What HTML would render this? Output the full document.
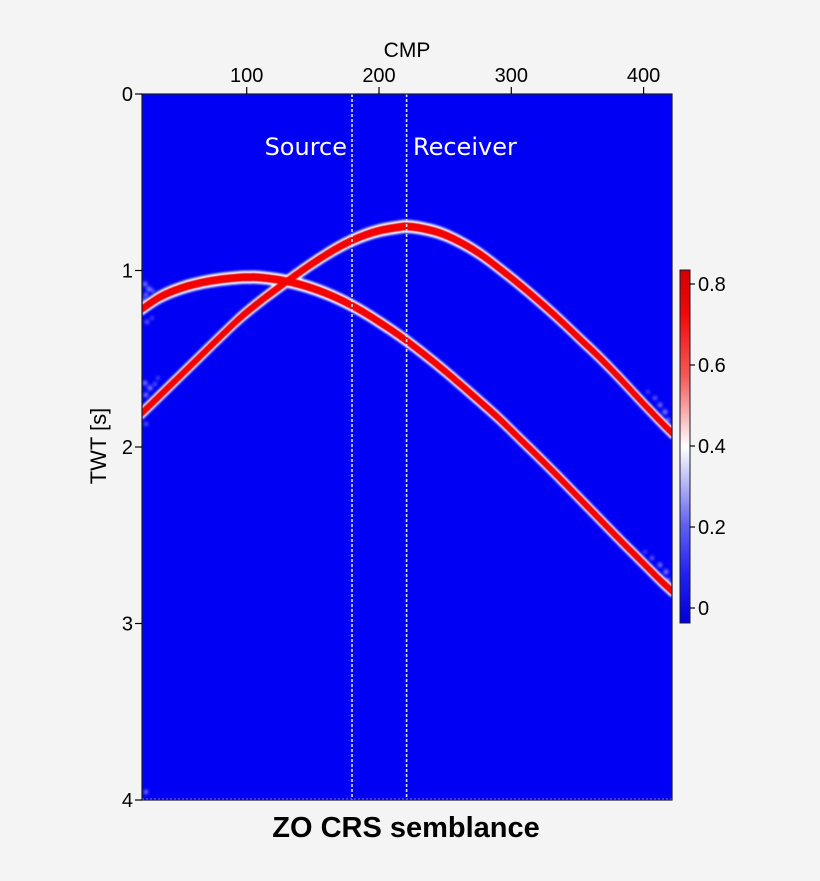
<!DOCTYPE html>
<html><head><meta charset="utf-8"><style>
html,body{margin:0;padding:0;background:#f4f4f4;}
svg{display:block;}
</style></head><body>
<svg width="820" height="881" viewBox="0 0 820 881" xmlns="http://www.w3.org/2000/svg" xmlns:xlink="http://www.w3.org/1999/xlink">
<defs>
<clipPath id="pc"><rect x="142" y="94" width="530" height="706"/></clipPath>
<filter id="bl" x="-5%" y="-5%" width="110%" height="110%"><feGaussianBlur stdDeviation="1.0"/></filter>
<filter id="bl2" x="-50%" y="-50%" width="200%" height="200%"><feGaussianBlur stdDeviation="1.5"/></filter>
<filter id="bl3" x="-5%" y="-5%" width="110%" height="110%"><feGaussianBlur stdDeviation="0.4"/></filter>
<polyline id="rc" fill="none" stroke-linejoin="round" points="142,413 160,395.5 180,376 200,356.5 220,337 240,318 260,301.5 280,286.5 300,272 320,258.5 340,246.5 360,237 380,230.5 400,227 407,226.5 420,228 440,233 460,242 480,254 500,269 520,285 540,302 560,320 580,339 600,358 620,378.5 640,400 660,421 672,433"/>
<polyline id="sc" fill="none" stroke-linejoin="round" points="142,309 160,297 180,288.5 200,283 220,279.5 240,277.5 250,277.2 260,277.5 280,280 300,284.5 320,291 340,299.5 360,310 380,322.5 400,336 420,351 440,367 460,384 480,401.5 500,419.5 520,439 540,458.5 560,478.5 580,499 600,519.5 620,540 640,560 660,580 672,591"/>
<linearGradient id="cb" x1="0" y1="0" x2="0" y2="1">
<stop offset="0" stop-color="#d00000"/>
<stop offset="0.12" stop-color="#f00808"/>
<stop offset="0.3" stop-color="#f25a5a"/>
<stop offset="0.42" stop-color="#f8bcbc"/>
<stop offset="0.5" stop-color="#ffffff"/>
<stop offset="0.58" stop-color="#c8c8f6"/>
<stop offset="0.72" stop-color="#6262ee"/>
<stop offset="0.86" stop-color="#2222ee"/>
<stop offset="1" stop-color="#0000d6"/>
</linearGradient>
</defs>

<rect x="142" y="94" width="530" height="706" fill="#0000f5"/>

<g clip-path="url(#pc)">
  <g fill="#ffffff" opacity="0.6" filter="url(#bl2)">
    <circle cx="145" cy="284" r="2.2"/><circle cx="149" cy="289" r="2.4"/><circle cx="146" cy="295" r="2"/><circle cx="153" cy="291" r="1.6"/><circle cx="144" cy="300" r="1.8"/>
    <circle cx="147" cy="322" r="1.8"/><circle cx="152" cy="318" r="1.4"/>
    <circle cx="145" cy="383" r="2.2"/><circle cx="150" cy="388" r="2.4"/><circle cx="146" cy="395" r="2.2"/><circle cx="155" cy="384" r="1.6"/><circle cx="158" cy="378" r="1.4"/>
    <circle cx="146" cy="424" r="1.6"/>
    <circle cx="660" cy="405" r="2.2"/><circle cx="665" cy="412" r="2.4"/><circle cx="655" cy="398" r="1.8"/><circle cx="668" cy="420" r="2"/><circle cx="648" cy="392" r="1.4"/>
    <circle cx="660" cy="565" r="2.2"/><circle cx="666" cy="572" r="2.4"/><circle cx="652" cy="558" r="1.8"/><circle cx="668" cy="580" r="2"/><circle cx="645" cy="552" r="1.4"/>
    <circle cx="146" cy="792" r="2"/>
  </g>
  <g stroke="#ffffff" stroke-width="2" filter="url(#bl)">
    <use href="#rc" xlink:href="#rc" y="-5.5"/><use href="#rc" xlink:href="#rc" y="-4.5"/><use href="#rc" xlink:href="#rc" y="-3.5"/><use href="#rc" xlink:href="#rc" y="3.5"/><use href="#rc" xlink:href="#rc" y="4.5"/><use href="#rc" xlink:href="#rc" y="5.5"/>
    <use href="#sc" xlink:href="#sc" y="-5.5"/><use href="#sc" xlink:href="#sc" y="-4.5"/><use href="#sc" xlink:href="#sc" y="-3.5"/><use href="#sc" xlink:href="#sc" y="3.5"/><use href="#sc" xlink:href="#sc" y="4.5"/><use href="#sc" xlink:href="#sc" y="5.5"/>
  </g>
  <g stroke="#f40000" stroke-width="2" filter="url(#bl3)">
    <use href="#rc" xlink:href="#rc" y="-3"/><use href="#rc" xlink:href="#rc" y="-2"/><use href="#rc" xlink:href="#rc" y="-1"/><use href="#rc" xlink:href="#rc" y="0"/><use href="#rc" xlink:href="#rc" y="1"/><use href="#rc" xlink:href="#rc" y="2"/><use href="#rc" xlink:href="#rc" y="3"/>
    <use href="#sc" xlink:href="#sc" y="-3"/><use href="#sc" xlink:href="#sc" y="-2"/><use href="#sc" xlink:href="#sc" y="-1"/><use href="#sc" xlink:href="#sc" y="0"/><use href="#sc" xlink:href="#sc" y="1"/><use href="#sc" xlink:href="#sc" y="2"/><use href="#sc" xlink:href="#sc" y="3"/>
  </g>
  <line x1="352" y1="94" x2="352" y2="800" stroke="#dcdcff" stroke-width="1.6" stroke-dasharray="3,2"/>
  <line x1="406.6" y1="94" x2="406.6" y2="800" stroke="#dcdcff" stroke-width="1.6" stroke-dasharray="3,2"/>
  <line x1="142" y1="799" x2="672" y2="799" stroke="#d8c8f0" stroke-width="1" opacity="0.6" stroke-dasharray="2,2"/>
</g>

<rect x="142" y="94" width="530" height="706" fill="none" stroke="#1a1a2a" stroke-width="1.2"/>

<g font-family="'DejaVu Sans', sans-serif" font-size="24" fill="#ffffff">
  <text x="347" y="155" text-anchor="end">Source</text>
  <text x="413" y="155">Receiver</text>
</g>

<g stroke="#000" stroke-width="1.2">
  <line x1="246.7" y1="87" x2="246.7" y2="94"/>
  <line x1="379" y1="87" x2="379" y2="94"/>
  <line x1="511.3" y1="87" x2="511.3" y2="94"/>
  <line x1="643.6" y1="87" x2="643.6" y2="94"/>
  <line x1="135" y1="94" x2="142" y2="94"/>
  <line x1="135" y1="270.5" x2="142" y2="270.5"/>
  <line x1="135" y1="447" x2="142" y2="447"/>
  <line x1="135" y1="623.5" x2="142" y2="623.5"/>
  <line x1="135" y1="800" x2="142" y2="800"/>
</g>
<g font-family="'Liberation Sans', Arial, sans-serif" font-size="20" fill="#000">
  <text x="246.7" y="82" text-anchor="middle">100</text>
  <text x="379" y="82" text-anchor="middle">200</text>
  <text x="511.3" y="82" text-anchor="middle">300</text>
  <text x="643.6" y="82" text-anchor="middle">400</text>
  <text x="133" y="101" text-anchor="end">0</text>
  <text x="133" y="277.5" text-anchor="end">1</text>
  <text x="133" y="454" text-anchor="end">2</text>
  <text x="133" y="630.5" text-anchor="end">3</text>
  <text x="133" y="807" text-anchor="end">4</text>
  <text x="407" y="57" text-anchor="middle" font-size="21">CMP</text>
  <text x="0" y="0" text-anchor="middle" font-size="22" transform="translate(106,446) rotate(-90)">TWT [s]</text>
</g>

<rect x="680" y="270" width="10" height="353" fill="url(#cb)" stroke="#1a1a2a" stroke-width="1"/>
<g stroke="#000" stroke-width="1.2">
  <line x1="690" y1="284" x2="695" y2="284"/>
  <line x1="690" y1="365" x2="695" y2="365"/>
  <line x1="690" y1="446" x2="695" y2="446"/>
  <line x1="690" y1="527" x2="695" y2="527"/>
  <line x1="690" y1="608" x2="695" y2="608"/>
</g>
<g font-family="'Liberation Sans', Arial, sans-serif" font-size="20" fill="#000">
  <text x="698" y="291">0.8</text>
  <text x="698" y="372">0.6</text>
  <text x="698" y="453">0.4</text>
  <text x="698" y="534">0.2</text>
  <text x="698" y="615">0</text>
</g>

<text x="406" y="837" text-anchor="middle" font-family="'Liberation Sans', Arial, sans-serif" font-weight="bold" font-size="29" fill="#000">ZO CRS semblance</text>
</svg>
<script>
(function(){
  function smooth(id){
    var el=document.getElementById(id);
    var raw=el.getAttribute('points').trim().split(/\s+/).map(function(s){var a=s.split(',');return [parseFloat(a[0]),parseFloat(a[1])];});
    var out=[];
    for(var i=0;i<raw.length-1;i++){
      var p0=raw[Math.max(0,i-1)],p1=raw[i],p2=raw[i+1],p3=raw[Math.min(raw.length-1,i+2)];
      for(var k=0;k<8;k++){
        var t=k/8,t2=t*t,t3=t2*t;
        var x=0.5*((2*p1[0])+(-p0[0]+p2[0])*t+(2*p0[0]-5*p1[0]+4*p2[0]-p3[0])*t2+(-p0[0]+3*p1[0]-3*p2[0]+p3[0])*t3);
        var y=0.5*((2*p1[1])+(-p0[1]+p2[1])*t+(2*p0[1]-5*p1[1]+4*p2[1]-p3[1])*t2+(-p0[1]+3*p1[1]-3*p2[1]+p3[1])*t3);
        out.push(x.toFixed(2)+','+y.toFixed(2));
      }
    }
    var l=raw[raw.length-1];out.push(l[0]+','+l[1]);
    el.setAttribute('points',out.join(' '));
  }
  try{smooth('rc');smooth('sc');}catch(e){}
})();
</script>
</body></html>
